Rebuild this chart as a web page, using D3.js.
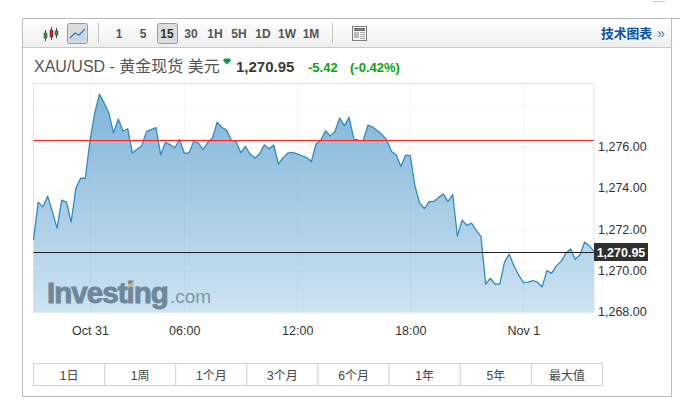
<!DOCTYPE html>
<html>
<head>
<meta charset="utf-8">
<script src="https://cdn.jsdelivr.net/npm/d3@7"></script>
<style>
  body { margin: 0; background: #fff; }
  text { font-family: "Liberation Sans", "Noto Sans CJK SC", sans-serif; }
</style>
</head>
<body>
<svg id="chart" width="684" height="410"></svg>
<script>
// 15 minute closes
const prices = [
  1271.52, 1273.35, 1273.12, 1273.64, 1272.89, 1272.09, 1273.45, 1273.35, 1272.38, 1274.03,
  1274.51, 1274.51, 1276.33, 1277.67, 1278.59, 1278.16, 1277.67, 1276.70, 1277.38, 1276.80,
  1276.91, 1275.73, 1275.92, 1276.10, 1276.78, 1276.87, 1276.96, 1275.65, 1276.26, 1276.13,
  1275.99, 1276.39, 1275.73, 1275.73, 1276.29, 1276.23, 1275.89, 1276.24, 1276.46, 1277.23,
  1276.97, 1276.84, 1276.36, 1276.29, 1275.74, 1276.05, 1275.67, 1275.49, 1275.69, 1276.13,
  1275.94, 1276.12, 1275.19, 1275.51, 1275.73, 1275.76, 1275.69, 1275.60, 1275.51, 1275.32,
  1276.17, 1276.36, 1276.81, 1276.55, 1276.78, 1277.43, 1277.05, 1277.46, 1276.42, 1276.36,
  1276.33, 1277.08, 1276.99, 1276.81, 1276.62, 1276.37, 1275.81, 1275.65, 1275.08, 1275.63,
  1275.60, 1274.11, 1273.30, 1273.04, 1273.38, 1273.38, 1273.57, 1273.75, 1273.38, 1273.72,
  1271.71, 1272.48, 1272.23, 1272.33, 1271.97, 1271.69, 1269.38, 1269.66, 1269.37, 1269.38,
  1270.44, 1270.83, 1270.27, 1269.82, 1269.45, 1269.47, 1269.54, 1269.47, 1269.24, 1270.03,
  1269.90, 1270.26, 1270.47, 1270.87, 1271.08, 1270.58, 1270.79, 1271.41, 1271.24, 1270.95
];
const prevClose = 1276.36;
const lastPrice = 1270.95;

const timeTickIndex = [12, 32, 56, 80, 104];
const timeTickLabels = ["Oct 31", "06:00", "12:00", "18:00", "Nov 1"];
const priceTicks = [1268, 1270, 1272, 1274, 1276];
const priceGrid = [1268, 1270, 1272, 1274, 1276, 1278];

const intervals = ["1", "5", "15", "30", "1H", "5H", "1D", "1W", "1M"];
const activeInterval = "15";
const ranges = ["1日", "1周", "1个月", "3个月", "6个月", "1年", "5年", "最大值"];

const svg = d3.select("#chart");
const fmtPrice = d3.format(",.2f");

// plot box
const plot = { left: 33.5, right: 594, top: 83.5, bottom: 312.5 };

const x = d3.scaleLinear().domain([0, prices.length - 1]).range([plot.left, plot.right]);
const y = d3.scaleLinear().domain([1268, 1276]).range([312.5, 147.5]);

// outer frame
svg.append("path")
  .attr("d", "M22.5,397V18.5H680M22.5,396.5H671.5V19")
  .attr("fill", "none")
  .attr("stroke", "#bdbdbd");
svg.append("line").attr("x1", 652).attr("x2", 665).attr("y1", 1.5).attr("y2", 1.5).attr("stroke", "#ccc");

// toolbar
const defs = svg.append("defs");
const barGrad = defs.append("linearGradient").attr("id", "barGrad").attr("x2", 0).attr("y2", 1);
barGrad.append("stop").attr("offset", 0).attr("stop-color", "#ffffff");
barGrad.append("stop").attr("offset", 1).attr("stop-color", "#efefef");

svg.append("rect").attr("x", 23).attr("y", 19).attr("width", 648).attr("height", 28).attr("fill", "url(#barGrad)");
svg.append("line").attr("x1", 23).attr("x2", 671).attr("y1", 47.5).attr("y2", 47.5).attr("stroke", "#c8c8c8");

// candle icon
const candles = svg.append("g").attr("transform", "translate(44,27)");
[[1.5, 6, 5, "#2f9e2f"], [7.5, 3, 7, "#d02020"], [12.5, 4, 4, "#2f9e2f"]].forEach(c => {
  candles.append("line").attr("x1", c[0]).attr("x2", c[0]).attr("y1", c[1] - 3).attr("y2", c[1] + c[2] + 3).attr("stroke", "#444");
  candles.append("rect").attr("x", c[0] - 1.5).attr("y", c[1]).attr("width", 3).attr("height", c[2]).attr("fill", c[3]).attr("stroke", "#333").attr("stroke-width", 0.5);
});

// line chart button
svg.append("rect").attr("x", 67.5).attr("y", 23.5).attr("width", 20).attr("height", 20).attr("rx", 2)
  .attr("fill", "#dcdcdc").attr("stroke", "#9a9a9a");
svg.append("path").attr("d", "M70,38L75,33L79,35L85,29V41H70Z").attr("fill", "#c4d8ea");
svg.append("path").attr("d", "M70,38L75,33L79,35L85,29").attr("fill", "none").attr("stroke", "#2f7fc0").attr("stroke-width", 1.3);

svg.append("line").attr("x1", 98.5).attr("x2", 98.5).attr("y1", 23).attr("y2", 43).attr("stroke", "#c4c4c4");
svg.append("line").attr("x1", 332.5).attr("x2", 332.5).attr("y1", 23).attr("y2", 43).attr("stroke", "#c4c4c4");

// interval buttons
const intervalX = d3.scalePoint().domain(intervals).range([119, 311]);
svg.append("rect").attr("x", 157.5).attr("y", 23.5).attr("width", 20).attr("height", 20).attr("rx", 2)
  .attr("fill", "#dcdcdc").attr("stroke", "#9a9a9a");
svg.selectAll("text.interval")
  .data(intervals)
  .enter()
  .append("text")
  .attr("class", "interval")
  .attr("x", d => intervalX(d))
  .attr("y", 38)
  .attr("text-anchor", "middle")
  .attr("font-size", 12)
  .attr("font-weight", "bold")
  .attr("fill", d => d === activeInterval ? "#333" : "#555")
  .text(d => d);

// table icon
const tableIcon = svg.append("g").attr("transform", "translate(352,26)");
tableIcon.append("rect").attr("x", 0.5).attr("y", 0.5).attr("width", 14).attr("height", 14).attr("fill", "#f4f4f4").attr("stroke", "#808080");
tableIcon.append("rect").attr("x", 2).attr("y", 2).attr("width", 11).attr("height", 3).attr("fill", "#777");
tableIcon.append("rect").attr("x", 2).attr("y", 6).attr("width", 5).attr("height", 6).attr("fill", "#bbb");
[6.5, 8.5, 10.5, 12.5].forEach(v => {
  tableIcon.append("line").attr("x1", 8).attr("x2", 13).attr("y1", v).attr("y2", v).attr("stroke", "#aaa");
});

// technical chart link
svg.append("text").attr("x", 601).attr("y", 38).attr("font-size", 12.75).attr("font-weight", "bold").attr("fill", "#0a52a5").text("技术图表");
svg.append("text").attr("x", 657).attr("y", 38).attr("font-size", 14).attr("fill", "#4a7fbd").text("»");

// title row
svg.append("text").attr("x", 34).attr("y", 71.5).attr("font-size", 16).attr("fill", "#555").text("XAU/USD - 黄金现货 美元");
svg.append("path").attr("d", "M223,60.5L224.5,58.5H229.5L231,60.5L227,64.5Z").attr("fill", "#0a9a3c");
svg.append("text").attr("x", 236).attr("y", 72).attr("font-size", 15).attr("font-weight", "bold").attr("fill", "#3a3a3a").text(fmtPrice(lastPrice));
svg.append("text").attr("x", 308).attr("y", 72).attr("font-size", 13).attr("font-weight", "bold").attr("fill", "#0aa50a").text("-5.42");
svg.append("text").attr("x", 350).attr("y", 72).attr("font-size", 13).attr("font-weight", "bold").attr("fill", "#0aa50a").text("(-0.42%)");

// area gradient
const areaGrad = defs.append("linearGradient").attr("id", "areaGrad")
  .attr("gradientUnits", "userSpaceOnUse").attr("x1", 0).attr("x2", 0).attr("y1", 94).attr("y2", plot.bottom);
areaGrad.append("stop").attr("offset", 0).attr("stop-color", "#7fb5d8");
areaGrad.append("stop").attr("offset", 1).attr("stop-color", "#cde3f1");

// plot box and grid
svg.append("path")
  .attr("d", `M${plot.left},${plot.bottom}V${plot.top}H${plot.right}V${plot.bottom}`)
  .attr("fill", "none").attr("stroke", "#e4e4e4");

const area = d3.area().x((d, i) => x(i)).y0(plot.bottom).y1(d => y(d));
const line = d3.line().x((d, i) => x(i)).y(d => y(d));

svg.append("path").datum(prices).attr("d", area).attr("fill", "url(#areaGrad)");

svg.selectAll("line.hgrid")
  .data(priceGrid)
  .enter()
  .append("line")
  .attr("class", "hgrid")
  .attr("x1", plot.left).attr("x2", plot.right)
  .attr("y1", d => y(d)).attr("y2", d => y(d))
  .attr("stroke", "#8aa8c0").attr("stroke-opacity", 0.09);

svg.selectAll("line.vgrid")
  .data(timeTickIndex)
  .enter()
  .append("line")
  .attr("class", "vgrid")
  .attr("x1", d => Math.round(x(d)) + 0.5).attr("x2", d => Math.round(x(d)) + 0.5)
  .attr("y1", plot.top).attr("y2", plot.bottom)
  .attr("stroke", "#8aa8c0").attr("stroke-opacity", 0.11);

// watermark sits over the area
svg.append("text").attr("x", 47).attr("y", 303).attr("font-size", 29.5).attr("font-weight", "bold")
  .attr("letter-spacing", -0.95)
  .attr("fill", "#6f8799").attr("stroke", "#6f8799").attr("stroke-width", 0.9)
  .text("Investing");
svg.append("text").attr("x", 170).attr("y", 303).attr("font-size", 19).attr("fill", "#7f94a5").text(".com");
svg.append("path").attr("d", "M128,286L134,280V285L128,288Z").attr("fill", "#c9b67a");

svg.append("path").datum(prices).attr("d", line)
  .attr("fill", "none").attr("stroke", "#2e8bc9").attr("stroke-width", 1.3).attr("stroke-linejoin", "round");

// previous close and last price lines
svg.append("line").attr("x1", plot.left).attr("x2", plot.right)
  .attr("y1", Math.round(y(prevClose)) + 0.5).attr("y2", Math.round(y(prevClose)) + 0.5)
  .attr("stroke", "#ff2020");
svg.append("line").attr("x1", plot.left).attr("x2", plot.right)
  .attr("y1", Math.round(y(lastPrice)) + 0.5).attr("y2", Math.round(y(lastPrice)) + 0.5)
  .attr("stroke", "#222");

// axes
const xAxis = d3.axisBottom(x)
  .tickValues(timeTickIndex)
  .tickFormat((d, i) => timeTickLabels[i])
  .tickSize(0)
  .tickPadding(0);
const xAxisG = svg.append("g").attr("transform", "translate(0,326)").call(xAxis);
xAxisG.select(".domain").remove();
xAxisG.selectAll("text").attr("font-size", 12.5).attr("fill", "#333")
  .style("font-family", '"Liberation Sans", sans-serif');

const yAxis = d3.axisRight(y)
  .tickValues(priceTicks)
  .tickFormat(fmtPrice)
  .tickSize(0)
  .tickPadding(0);
const yAxisG = svg.append("g").attr("transform", "translate(598,-1)").call(yAxis);
yAxisG.select(".domain").remove();
yAxisG.selectAll("text").attr("font-size", 12.5).attr("fill", "#333")
  .style("font-family", '"Liberation Sans", sans-serif');

// last price tag
svg.append("rect").attr("x", 594).attr("y", 243).attr("width", 54).attr("height", 18).attr("fill", "#2f2f2f");
svg.append("text").attr("x", 621).attr("y", 256.5).attr("text-anchor", "middle")
  .attr("font-size", 12.5).attr("font-weight", "bold").attr("fill", "#fff").text(fmtPrice(lastPrice));

// range buttons
const rangeX = d3.scaleBand().domain(ranges).range([33.5, 602.5]);
svg.selectAll("rect.range")
  .data(ranges)
  .enter()
  .append("rect")
  .attr("class", "range")
  .attr("x", d => rangeX(d))
  .attr("y", 363.5)
  .attr("width", rangeX.bandwidth())
  .attr("height", 22)
  .attr("fill", "#fff")
  .attr("stroke", "#d4d4d4");
svg.selectAll("text.range")
  .data(ranges)
  .enter()
  .append("text")
  .attr("class", "range")
  .attr("x", d => rangeX(d) + rangeX.bandwidth() / 2)
  .attr("y", 379.5)
  .attr("text-anchor", "middle")
  .attr("font-size", 12)
  .attr("fill", "#444")
  .text(d => d);
</script>
</body>
</html>
